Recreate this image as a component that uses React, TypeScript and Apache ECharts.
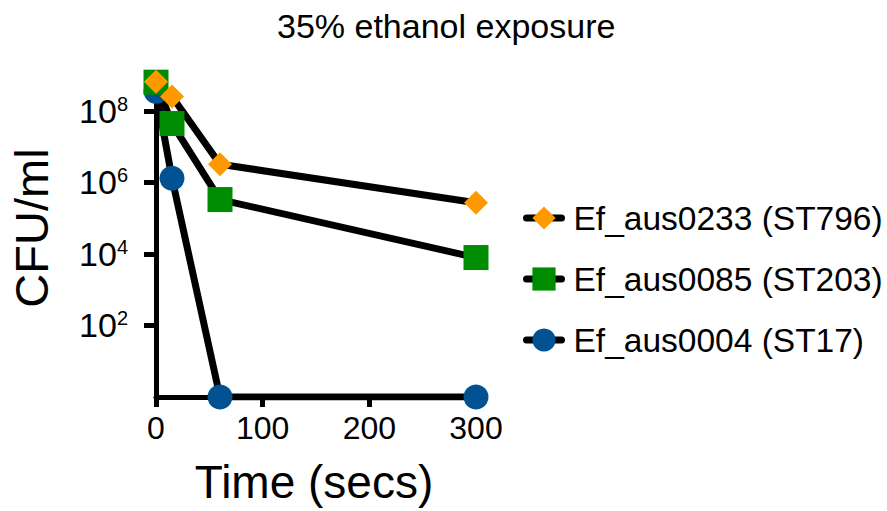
import React, { useEffect, useRef } from "react";
import * as echarts from "echarts";

const times = [0, 15, 60, 300];
const seriesNames = ["Ef_aus0233 (ST796)", "Ef_aus0085 (ST203)", "Ef_aus0004 (ST17)"];
const aus0233 = [6.5e8, 2.5e8, 3.2e6, 2.7e5];
const aus0085 = [6.3e8, 4.4e7, 3.3e5, 7.9e3];
const aus0004 = [3.5e8, 1.3e6, 1, 1];
const yTicks = [1e2, 1e4, 1e6, 1e8];
const xTicks = [0, 100, 200, 300];

const FONT = "Liberation Sans";

export default function App() {
  const ref = useRef<HTMLDivElement>(null);
  useEffect(() => {
    if (!ref.current) return;
    const chart = echarts.init(ref.current, null, { renderer: "svg" });
    const mk = (name: string, vals: number[], symbol: string, size: number, color: string) => ({
      name,
      type: "line",
      data: times.map((t, i) => [t, vals[i]]),
      symbol,
      symbolSize: size,
      showSymbol: true,
      lineStyle: { color: "#000", width: 7, cap: "round", join: "round" },
      itemStyle: { color, borderWidth: 0 },
      emphasis: { disabled: true },
    });
    chart.setOption({
      animation: false,
      textStyle: { fontFamily: FONT, color: "#000" },
      title: {
        text: "35% ethanol exposure",
        left: 272,
        top: 4,
        textStyle: { fontFamily: FONT, fontSize: 34, fontWeight: "normal", color: "#000" },
      },
      legend: {
        orient: "vertical",
        left: 523,
        top: 201,
        padding: 0,
        itemWidth: 35,
        itemHeight: 29,
        itemGap: 27,
        data: seriesNames,
        lineStyle: { width: 7, color: "#000", cap: "round" },
        textStyle: { fontFamily: FONT, fontSize: 33.5, color: "#000", padding: [0, 0, 0, 7] },
      },
      grid: { left: 156, right: 411, top: 75, bottom: 114, containLabel: false, outerBoundsMode: "none" },
      xAxis: {
        type: "value",
        min: 0,
        max: 300,
        interval: 100,
        axisLine: { lineStyle: { color: "#000", width: 5 } },
        axisTick: { show: true, length: 10, lineStyle: { color: "#000", width: 5 }, customValues: xTicks },
        axisLabel: { fontSize: 32, color: "#000", margin: 15, fontFamily: FONT, customValues: xTicks },
        splitLine: { show: false },
      },
      yAxis: {
        type: "log",
        logBase: 10,
        min: 1,
        max: 1e9,
        axisLine: { show: true, lineStyle: { color: "#000", width: 5 } },
        axisTick: { show: true, length: 12, lineStyle: { color: "#000", width: 5 }, customValues: yTicks },
        axisLabel: {
          customValues: yTicks,
          margin: 28,
          color: "#000",
          fontFamily: FONT,
          fontSize: 34,
          formatter: (v: number) => "{b|10}{s|" + Math.round(Math.log10(v)) + "}",
          rich: {
            b: { fontSize: 34, fontFamily: FONT, color: "#000", verticalAlign: "bottom" },
            s: { fontSize: 20, fontFamily: FONT, color: "#000", verticalAlign: "top" },
          },
        },
        splitLine: { show: false },
      },
      graphic: [
        {
          type: "text",
          x: 31,
          y: 228,
          rotation: Math.PI / 2,
          style: {
            text: "CFU/ml",
            fontSize: 47,
            fontFamily: FONT,
            fill: "#000",
            align: "center",
            verticalAlign: "middle",
          },
        },
        {
          type: "text",
          x: 314,
          y: 482,
          style: {
            text: "Time (secs)",
            fontSize: 46,
            fontFamily: FONT,
            fill: "#000",
            align: "center",
            verticalAlign: "middle",
          },
        },
      ],
      series: [
        mk(seriesNames[2], aus0004, "circle", 25, "#005293"),
        mk(seriesNames[1], aus0085, "rect", 25, "#008C00"),
        mk(seriesNames[0], aus0233, "diamond", 24, "#FF9900"),
      ],
    });
    return () => chart.dispose();
  }, []);
  return <div ref={ref} style={{ position: "absolute", left: 0, top: 0, width: 887, height: 511 }} />;
}
